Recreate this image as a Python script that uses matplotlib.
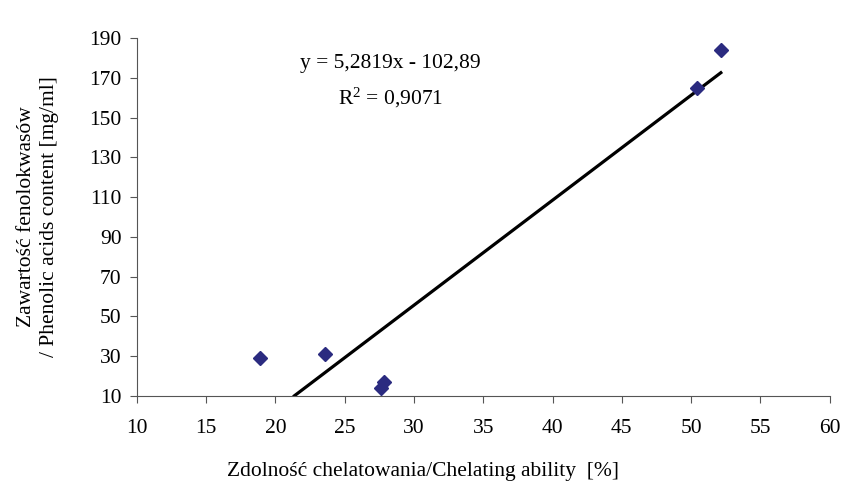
import numpy as np
import matplotlib
matplotlib.use("Agg")
import matplotlib.pyplot as plt

plt.rcParams['font.family'] = ['Liberation Serif', 'DejaVu Serif']
plt.rcParams['mathtext.fontset'] = 'custom'
plt.rcParams['mathtext.rm'] = 'Liberation Serif'

# chelating ability [%] vs phenolic acids content [mg/ml]
chelating = [18.9, 23.6, 27.6, 27.85, 50.4, 52.15]
phenolic = [29.2, 31.1, 13.7, 16.9, 165.0, 184.0]

slope = 5.2819
intercept = -102.89
x_ticks = [10, 15, 20, 25, 30, 35, 40, 45, 50, 55, 60]
y_ticks = [10, 30, 50, 70, 90, 110, 130, 150, 170, 190]

fs = 15.5
fig = plt.figure(figsize=(8.5, 4.88), dpi=100)
ax = fig.add_axes([0.161, 0.189, 0.815, 0.733])

# trend line from where it enters the axis to the last point
x0 = (10 - intercept) / slope
xs = np.array([x0, max(chelating)])
ax.plot(xs, slope * xs + intercept, color='black', lw=2.3, zorder=2)
ax.plot(chelating, phenolic, linestyle='none', marker='D', markersize=7,
        color='#2b2b80', zorder=3)

ax.text(28.3, 177, "y = 5,2819x - 102,89", ha='center', va='center', fontsize=fs)
ax.text(28.3, 160, r"R$\mathregular{^2}$ = 0,9071", ha='center', va='center', fontsize=fs)

ax.set_xlim(10, 60)
ax.set_ylim(10, 190)
ax.set_xticks(x_ticks)
ax.set_yticks(y_ticks)
ax.tick_params(labelsize=fs, direction='out', length=5, color='#555555', pad=12)
ax.tick_params(axis='y', pad=6)
for s in ['top', 'right']:
    ax.spines[s].set_visible(False)
for s in ['left', 'bottom']:
    ax.spines[s].set_color('#555555')

ax.set_xlabel("Zdolność chelatowania/Chelating ability  [%]", fontsize=fs)
ax.xaxis.set_label_coords(0.413, -0.185)
ax.set_ylabel("Zawartość fenolokwasów\n/ Phenolic acids content [mg/ml]",
              fontsize=fs, linespacing=1.3)
ax.yaxis.set_label_coords(-0.112, 0.5)

fig.savefig("out.png", dpi=100)
